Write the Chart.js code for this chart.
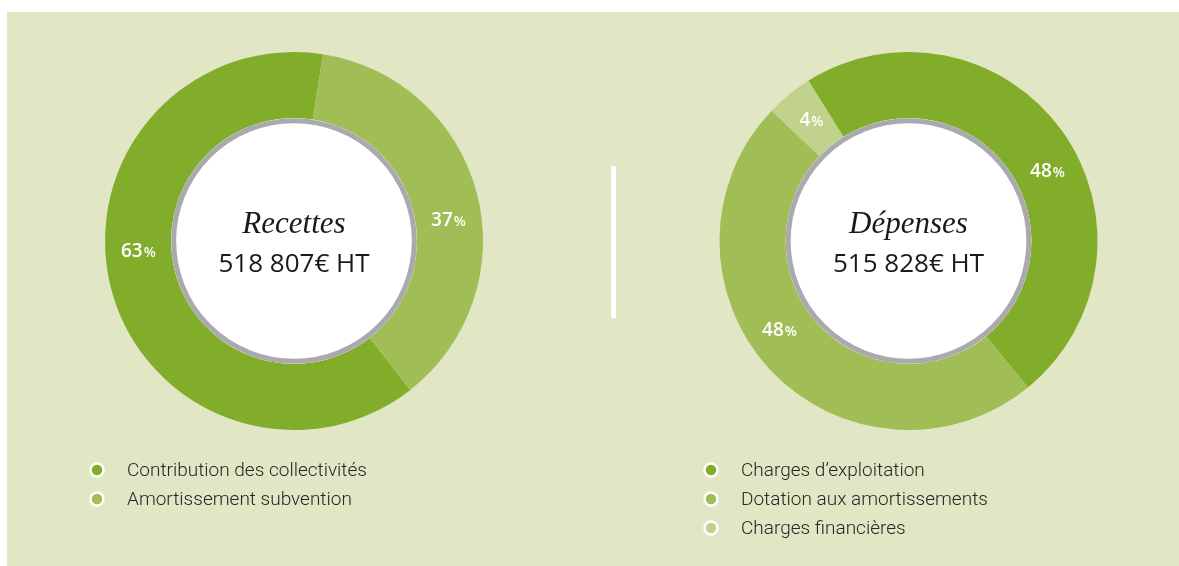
<!DOCTYPE html>
<html>
<head>
<meta charset="utf-8">
<script src="https://cdn.jsdelivr.net/npm/chart.js@4"></script>
<style>
html, body { margin: 0; padding: 0; background: #fff; }
#panneau { position: absolute; left: 7px; top: 12px; width: 1172px; height: 554px; background: #e1e6c4; overflow: hidden; }
.bloc { position: absolute; top: 0; height: 554px; }
#bloc-recettes { left: 0; width: 593px; }
#bloc-depenses { left: 593px; width: 579px; }
#separateur { position: absolute; left: 604px; top: 154px; width: 5px; height: 152px; background: #fff; }
</style>
</head>
<body>
<div id="panneau">
  <div class="bloc" id="bloc-recettes"><canvas id="recettes"></canvas></div>
  <div id="separateur"></div>
  <div class="bloc" id="bloc-depenses"><canvas id="depenses"></canvas></div>
</div>
<script>
// données
const recettesLabels = ['Contribution des collectivités', 'Amortissement subvention'];
const recettesValeurs = [63, 37];
const recettesTitre = 'Recettes';
const recettesTotal = '518 807€ HT';

const depensesLabels = ['Charges d’exploitation', 'Dotation aux amortissements', 'Charges financières'];
const depensesValeurs = [48, 48, 4];
const depensesTitre = 'Dépenses';
const depensesTotal = '515 828€ HT';

const vertFonce = '#82ad2b';
const vertMoyen = '#a0be55';
const vertClair = '#c0d28c';

// disque blanc central, pourcentages et légende
const decorDonut = {
    id: 'decorDonut',
    afterDatasetsDraw(chart, args, opts) {
        let ctx = chart.ctx;
        let arcs = chart.getDatasetMeta(0).data;
        let ds = chart.data.datasets[0];
        let cx = arcs[0].x, cy = arcs[0].y;
        let rIn = arcs[0].innerRadius;
        ctx.save();

        ctx.beginPath();
        ctx.arc(cx, cy, rIn, 0, Math.PI * 2);
        ctx.fillStyle = '#fff';
        ctx.fill();
        ctx.beginPath();
        ctx.arc(cx, cy, rIn - 2.5, 0, Math.PI * 2);
        ctx.lineWidth = 5;
        ctx.strokeStyle = '#a9a9ae';
        ctx.stroke();

        // titre + montant
        ctx.fillStyle = '#1a1a1a';
        ctx.textAlign = 'center';
        ctx.textBaseline = 'alphabetic';
        ctx.font = 'italic 31px "Liberation Serif"';
        ctx.fillText(opts.titre, cx, cy - 8);
        ctx.font = '400 26px "Open Sans"';
        ctx.fillText(opts.total, cx, cy + 31);

        // pourcentages
        ctx.textAlign = 'left';
        ctx.fillStyle = '#fff';
        arcs.forEach(function (arc, i) {
            let ang = arc.startAngle + (arc.endAngle - arc.startAngle) * 0.55;
            let r = (arc.innerRadius + arc.outerRadius) / 2;
            let x = cx + Math.cos(ang) * r;
            let y = cy + Math.sin(ang) * r;
            let v = String(ds.data[i]);
            ctx.font = '600 19px "Open Sans"';
            let w1 = ctx.measureText(v).width;
            ctx.font = '600 14px "Open Sans"';
            let w2 = ctx.measureText('%').width;
            let x0 = x - (w1 + w2 + 1) / 2;
            ctx.font = '600 19px "Open Sans"';
            ctx.fillText(v, x0, y + 7);
            ctx.font = '600 14px "Open Sans"';
            ctx.fillText('%', x0 + w1 + 1, y + 7);
        });

        // légende
        let lx = chart.chartArea.left - 8;
        let ly = chart.chartArea.bottom + 40;
        chart.data.labels.forEach(function (lab, i) {
            let y = ly + i * 29;
            ctx.beginPath();
            ctx.arc(lx, y, 6.5, 0, Math.PI * 2);
            ctx.fillStyle = ds.backgroundColor[i];
            ctx.fill();
            ctx.lineWidth = 2.5;
            ctx.strokeStyle = '#fff';
            ctx.stroke();
            ctx.fillStyle = '#262626';
            ctx.font = '300 19px Roboto';
            ctx.textAlign = 'left';
            ctx.textBaseline = 'middle';
            ctx.fillText(lab, lx + 30, y + 1);
        });
        ctx.restore();
    }
};

function creerDonut(id, labels, valeurs, couleurs, rotation, padding, titre, total) {
    return new Chart(document.getElementById(id), {
        type: 'doughnut',
        data: {
            labels: labels,
            datasets: [{
                data: valeurs,
                backgroundColor: couleurs,
                borderWidth: 0,
                hoverOffset: 0
            }]
        },
        options: {
            responsive: true,
            maintainAspectRatio: false,
            animation: false,
            cutout: '65%',
            rotation: rotation,
            layout: { padding: padding },
            plugins: {
                legend: { display: false },
                tooltip: { enabled: false },
                decorDonut: { titre: titre, total: total }
            }
        },
        plugins: [decorDonut]
    });
}

creerDonut('recettes', recettesLabels, recettesValeurs, [vertFonce, vertMoyen], 142,
    { left: 98, right: 117, top: 40, bottom: 136 }, recettesTitre, recettesTotal);
creerDonut('depenses', depensesLabels, depensesValeurs, [vertFonce, vertMoyen, vertClair], -32,
    { left: 119, right: 81, top: 40, bottom: 136 }, depensesTitre, depensesTotal);
</script>
</body>
</html>
